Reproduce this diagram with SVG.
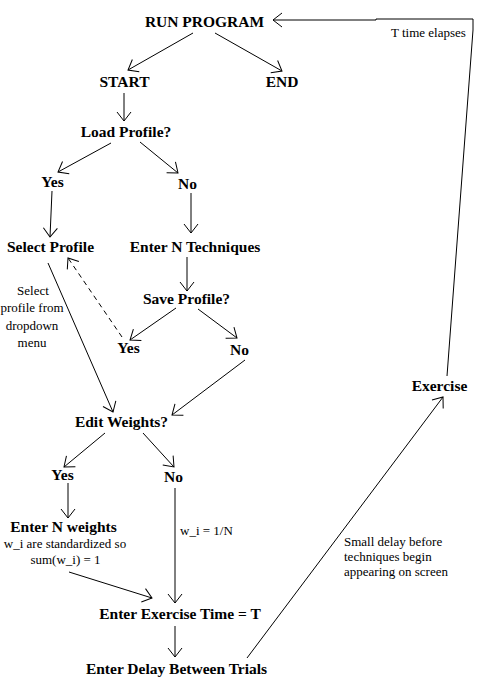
<svg xmlns="http://www.w3.org/2000/svg" width="479" height="680" viewBox="0 0 479 680">
<style>
text{font-family:'Liberation Serif','DejaVu Serif','Noto Serif',serif;fill:#000}
.n{font-weight:bold;font-size:15.5px;text-anchor:middle}
.s{font-size:13px}
.c{text-anchor:middle}
.l{fill:none;stroke:#000;stroke-width:1}
.d{stroke-dasharray:5,4}
</style>
<defs>
<marker id="a" markerUnits="userSpaceOnUse" markerWidth="14" markerHeight="18" viewBox="-11 -9 14 18" refX="0" refY="0" orient="auto" overflow="visible">
<path d="M-9,-7 L0,0 L-9,7" fill="none" stroke="#000" stroke-width="1"/>
</marker>
</defs>
<rect width="479" height="680" fill="#fff"/>
<g id="connectors">
<line class="l" x1="193" y1="33" x2="128" y2="70" marker-end="url(#a)"/>
<line class="l" x1="215" y1="33" x2="282" y2="71" marker-end="url(#a)"/>
<line class="l" x1="124" y1="93" x2="124" y2="121" marker-end="url(#a)"/>
<line class="l" x1="111" y1="143" x2="58" y2="172" marker-end="url(#a)"/>
<line class="l" x1="140" y1="142" x2="178" y2="173" marker-end="url(#a)"/>
<line class="l" x1="52" y1="191" x2="50" y2="237" marker-end="url(#a)"/>
<line class="l" x1="191" y1="193" x2="191" y2="233" marker-end="url(#a)"/>
<line class="l" x1="187" y1="257" x2="187" y2="291" marker-end="url(#a)"/>
<line class="l" x1="176" y1="308" x2="130" y2="340" marker-end="url(#a)"/>
<line class="l" x1="198" y1="309" x2="237" y2="338" marker-end="url(#a)"/>
<line class="l d" x1="122" y1="337" x2="68" y2="258" marker-end="url(#a)"/>
<line class="l" x1="48" y1="263" x2="113" y2="412" marker-end="url(#a)"/>
<line class="l" x1="245" y1="360" x2="172" y2="415" marker-end="url(#a)"/>
<line class="l" x1="105" y1="433" x2="64" y2="467" marker-end="url(#a)"/>
<line class="l" x1="143" y1="433" x2="174" y2="467" marker-end="url(#a)"/>
<line class="l" x1="68" y1="483" x2="68" y2="518" marker-end="url(#a)"/>
<line class="l" x1="175" y1="488" x2="175" y2="603" marker-end="url(#a)"/>
<line class="l" x1="69" y1="572" x2="152" y2="598" marker-end="url(#a)"/>
<line class="l" x1="175" y1="626" x2="175" y2="657" marker-end="url(#a)"/>
<line class="l" x1="247" y1="658" x2="443" y2="397" marker-end="url(#a)"/>
<polyline class="l" points="447,376 473,30 473,19 376,19 376,20 273,20" marker-end="url(#a)"/>
</g>
<g id="run-program"><text class="n" x="204.5" y="27">RUN PROGRAM</text></g>
<g id="start"><text class="n" x="124.5" y="87">START</text></g>
<g id="end"><text class="n" x="282" y="87">END</text></g>
<g id="load-profile"><text class="n" x="126" y="137">Load Profile?</text></g>
<g id="load-yes"><text class="n" x="52.5" y="187">Yes</text></g>
<g id="load-no"><text class="n" x="187.5" y="189">No</text></g>
<g id="select-profile"><text class="n" x="50.5" y="252">Select Profile</text></g>
<g id="enter-n-techniques"><text class="n" x="195" y="252">Enter N Techniques</text></g>
<g id="save-profile"><text class="n" x="186.5" y="304">Save Profile?</text></g>
<g id="save-yes"><text class="n" x="128.5" y="353">Yes</text></g>
<g id="save-no"><text class="n" x="239.5" y="355">No</text></g>
<g id="select-note"><text class="s c" x="33" y="295">Select</text><text class="s c" x="32" y="312">profile from</text><text class="s c" x="32" y="330">dropdown</text><text class="s c" x="32" y="347">menu</text></g>
<g id="edit-weights"><text class="n" x="121.5" y="427">Edit Weights?</text></g>
<g id="edit-yes"><text class="n" x="62.5" y="480">Yes</text></g>
<g id="edit-no"><text class="n" x="173.5" y="482">No</text></g>
<g id="enter-n-weights"><text class="n" x="63.5" y="532">Enter N weights</text><text class="s c" x="65" y="548">w_i are standardized so</text><text class="s c" x="65.5" y="564">sum(w_i) = 1</text></g>
<g id="wi-note"><text class="s" x="180" y="535">w_i = 1/N</text></g>
<g id="enter-exercise-time"><text class="n" x="180" y="619">Enter Exercise Time = T</text></g>
<g id="enter-delay"><text class="n" x="176.5" y="674">Enter Delay Between Trials</text></g>
<g id="exercise"><text class="n" x="439.5" y="391">Exercise</text></g>
<g id="delay-note"><text class="s" x="344" y="546">Small delay before</text><text class="s" x="344" y="561">techniques begin</text><text class="s" x="344" y="576">appearing on screen</text></g>
<g id="elapse-note"><text class="s" x="391" y="37">T time elapses</text></g>
</svg>
